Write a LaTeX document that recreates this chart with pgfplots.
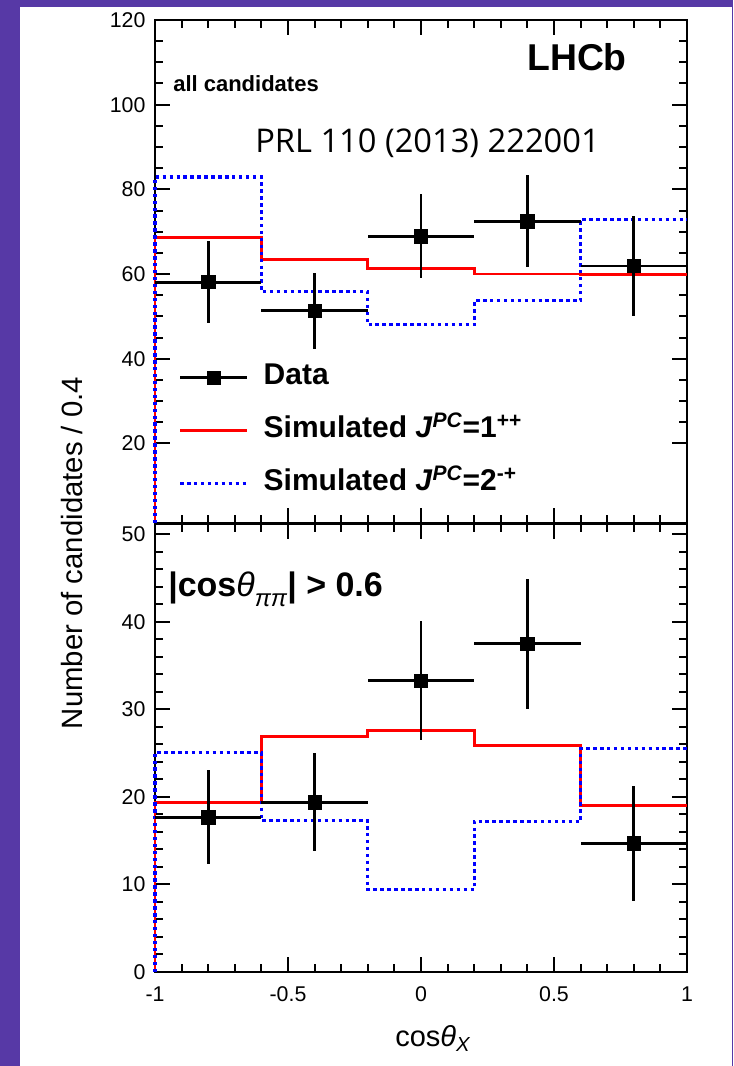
\documentclass[border=0pt]{standalone}
\usepackage{pgfplots}
\pgfplotsset{compat=1.18}
\usepackage{fontspec}
\setmainfont{Liberation Sans}
\newfontfamily\prlfont{Open Sans}
\definecolor{bgpurple}{RGB}{87,57,166}

\pgfplotsset{
  common/.style={
    scale only axis, width=399pt, xmin=-1, xmax=1,
    axis line style={line width=2.2pt},
    tick style={line width=1.5pt, black},
    tick align=inside,
    major tick length=11pt, minor tick length=6pt,
    xtick={-1,-0.5,0,0.5,1}, minor x tick num=4,
    xtick pos=both, ytick pos=both,
    clip=false,
    tick label style={font=\fontsize{16}{16}\selectfont},
    /pgf/number format/assume math mode=true,
    yticklabel style={inner sep=0pt, xshift=-7pt},
    xticklabel style={inner sep=0pt, yshift=-11pt},
  },
  histleg/.style={legend image code/.code={\draw[##1] (0pt,0pt) -- (50pt,0pt); \path (61.5pt,0pt);}},
  dataleg/.style={legend image code/.code={
    \draw[black, line width=2.2pt] (0pt,0pt) -- (50pt,0pt);
    \fill[black] (20pt,-5pt) rectangle (30pt,5pt);
    \path (61.5pt,0pt);}},
  redh/.style={red, line width=2.2pt},
  blueh/.style={blue, line width=2.4pt, dash pattern=on 2.6pt off 2.6pt},
  datah/.style={black, only marks, mark=square*, mark size=5pt,
    error bars/x dir=both, error bars/x fixed=0.2,
    error bars/y dir=both, error bars/y explicit,
    error bars/error bar style={line width=2.2pt, solid},
    error bars/error mark=none},
}

\begin{document}
\begin{tikzpicture}[x=1pt,y=1pt]
\useasboundingbox (0,0) rectangle (549.75,799.5);
\fill[bgpurple] (0,0) rectangle (549.75,799.5);
\fill[white] (15,0) rectangle (548.7,794.25);

% ---------------- upper panel ----------------
\begin{axis}[common, at={(116.25pt,407.25pt)}, anchor=south west,
  height=377.25pt, ymin=1.2, ymax=120,
  ytick={20,40,60,80,100,120}, minor y tick num=3,
  xticklabels={},
  legend cell align=left,
  legend style={draw=none, fill=none, inner sep=0pt, outer sep=0pt,
    at={(0.0442,0.3168)}, anchor=north west, row sep=18.75pt,
    font=\fontsize{22.5}{22.5}\selectfont\bfseries,
    nodes={inner sep=0pt, text height=16pt, text depth=5pt}},
]
\addlegendimage{dataleg}
\addlegendentry{Data}

\addplot[redh, histleg]
  coordinates {(-1,1.2) (-1,68.6) (-0.6,68.6) (-0.6,63.4) (-0.2,63.4) (-0.2,61.2)
               (0.2,61.2) (0.2,60.0) (0.6,60.0) (0.6,59.8) (1,59.8)};
\addlegendentry{Simulated \textit{J}\textsuperscript{\textit{PC}}=1\textsuperscript{++}}

\addplot[blueh, histleg]
  coordinates {(-1,1.2) (-1,82.9) (-0.6,82.9) (-0.6,55.8) (-0.2,55.8) (-0.2,48.0)
               (0.2,48.0) (0.2,53.7) (0.6,53.7) (0.6,72.8) (1,72.8)};
\addlegendentry{Simulated \textit{J}\textsuperscript{\textit{PC}}=2\textsuperscript{-+}}

\addplot[forget plot, datah] coordinates {
  (-0.8,58.1) +- (0,9.7)
  (-0.4,51.3) +- (0,9.0)
  (0,68.9)    +- (0,9.9)
  (0.4,72.5)  +- (0,10.8)
  (0.8,61.9)  +- (0,11.7)};
\end{axis}

% ---------------- lower panel ----------------
\begin{axis}[common, at={(116.25pt,70.5pt)}, anchor=south west,
  height=336pt, ymin=0, ymax=51.2,
  ytick={0,10,20,30,40,50}, minor y tick num=4,
  xticklabels={-1,-0.5,0,0.5,1},
]
\addplot[redh] coordinates {(-1,0) (-1,19.4) (-0.6,19.4) (-0.6,26.9) (-0.2,26.9) (-0.2,27.6)
               (0.2,27.6) (0.2,25.9) (0.6,25.9) (0.6,19.0) (1,19.0)};
\addplot[blueh] coordinates {(-1,0) (-1,25.1) (-0.6,25.1) (-0.6,17.3) (-0.2,17.3) (-0.2,9.4)
               (0.2,9.4) (0.2,17.2) (0.6,17.2) (0.6,25.5) (1,25.5)};
\addplot[datah] coordinates {
  (-0.8,17.7) +- (0,5.4)
  (-0.4,19.4) +- (0,5.6)
  (0,33.3)    +- (0,6.8)
  (0.4,37.5)  +- (0,7.4)
  (0.8,14.7)  +- (0,6.6)};
\end{axis}

% ---------------- texts ----------------
\node[anchor=base west, inner sep=0pt, font=\fontsize{16.5}{16.5}\selectfont\bfseries] at (129.75,730.5) {all candidates};
\node[anchor=base west, inner sep=0pt, font=\fontsize{28}{28}\selectfont\bfseries] at (395.25,746.25) {LHCb};
\node[anchor=base west, inner sep=0pt, font=\prlfont\fontsize{24.5}{24.5}\selectfont] at (191.25,684.75) {PRL 110 (2013) 222001};
\node[anchor=base west, inner sep=0pt, font=\fontsize{25.5}{25.5}\selectfont\bfseries] at (126,352) {|cos\textnormal{\itshape θ}\raisebox{-0.3em}{\fontsize{18}{18}\selectfont\textnormal{\itshape ππ}}| > 0.6};
\node[anchor=base west, inner sep=0pt, font=\fontsize{21.75}{21.75}\selectfont] at (296.25,14.25) {cos\textit{θ}\textsubscript{\textit{X}}};
\node[rotate=90, anchor=base, inner sep=0pt, font=\fontsize{22}{22}\selectfont] at (61.5,384.75) {Number of candidates / 0.4};
\end{tikzpicture}
\end{document}
